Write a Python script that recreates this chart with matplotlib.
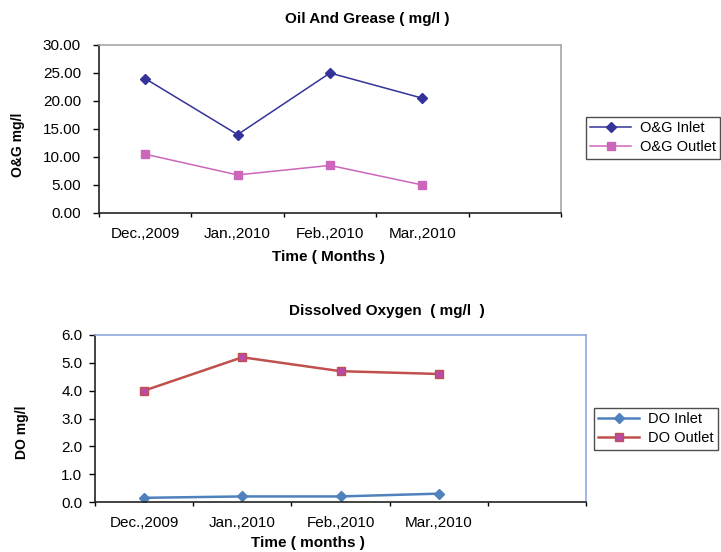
import matplotlib
matplotlib.use("Agg")
import matplotlib.pyplot as plt
import numpy as np

plt.rcParams['font.family'] = ['Liberation Sans', 'DejaVu Sans']

months = ["Dec.,2009", "Jan.,2010", "Feb.,2010", "Mar.,2010"]
og_inlet = [24.0, 14.0, 25.0, 20.5]
og_outlet = [10.5, 6.8, 8.5, 5.0]
do_inlet = [0.15, 0.2, 0.2, 0.3]
do_outlet = [4.0, 5.2, 4.7, 4.6]
n_slots = 5

W, H = 721, 552
fig = plt.figure(figsize=(W / 100, H / 100), dpi=100)


def px_axes(x0, y0, x1, y1):
    return fig.add_axes([x0 / W, 1 - y1 / H, (x1 - x0) / W, (y1 - y0) / H])


def ftext(x, y, s, **kw):
    fig.text(x / W, 1 - y / H, s, ha='center', va='center', **kw)


def style(ax, frame_color, ypad):
    ax.set_xlim(0, n_slots)
    ax.set_xticks(np.arange(0, n_slots + 1))
    ax.set_xticklabels([])
    ax.set_xticks(np.arange(len(months)) + 0.5, minor=True)
    ax.set_xticklabels(months, minor=True, fontsize=11)
    ax.tick_params(axis='x', which='minor', length=0, pad=10)
    ax.tick_params(axis='x', which='major', length=3, direction='out', width=1)
    ax.tick_params(axis='y', length=4, direction='out', width=1, labelsize=11, pad=ypad)
    for s in ['top', 'right']:
        ax.spines[s].set_color(frame_color)
        ax.spines[s].set_linewidth(1.2)
    for s in ['left', 'bottom']:
        ax.spines[s].set_color('#222222')
        ax.spines[s].set_linewidth(1.2)


x = np.arange(len(months)) + 0.5
leg_kw = dict(loc='upper left', bbox_transform=fig.transFigure, fontsize=10.5, frameon=True,
              fancybox=False, edgecolor='#222222', borderpad=0.3, handlelength=2.8,
              handletextpad=0.6, labelspacing=0.35, borderaxespad=0)

# Top chart
ax1 = px_axes(99, 45, 561, 213)
ax1.plot(x, og_inlet, color='#333399', marker='D', markersize=5, lw=1.1, label='O&G Inlet')
ax1.plot(x, og_outlet, color='#CC66BB', marker='s', markersize=5.5, lw=1.1, label='O&G Outlet')
ax1.set_ylim(0, 30)
ax1.set_yticks(np.arange(0, 31, 5))
ax1.set_yticklabels([f"{v:.2f}" for v in np.arange(0, 31, 5)])
style(ax1, '#A6A6A6', 9)
ftext(367, 19, "Oil And Grease ( mg/l )", fontsize=11, fontweight='bold')
ftext(328, 257, "Time ( Months )", fontsize=11, fontweight='bold')
ftext(18, 145, "O&G mg/l", fontsize=10, fontweight='bold', rotation=90)
leg1 = ax1.legend(bbox_to_anchor=(586 / W, 1 - 117 / H), **leg_kw)
leg1.get_frame().set_linewidth(1.0)

# Bottom chart
ax2 = px_axes(95, 335, 586, 502)
ax2.plot(x, do_inlet, color='#4F81BD', marker='D', markersize=5, lw=1.8, label='DO Inlet')
ax2.plot(x, do_outlet, color='#C0504D', marker='s', markersize=6, markerfacecolor='#B94AA8',
         markeredgecolor='#C0504D', lw=1.8, label='DO Outlet')
ax2.set_ylim(0, 6)
ax2.set_yticks(np.arange(0, 6.1, 1))
ax2.set_yticklabels([f"{v:.1f}" for v in np.arange(0, 6.1, 1)])
style(ax2, '#8EAADB', 5)
ftext(387, 311, "Dissolved Oxygen  ( mg/l  )", fontsize=11, fontweight='bold')
ftext(308, 543, "Time ( months )", fontsize=11, fontweight='bold')
ftext(22, 432, "DO mg/l", fontsize=10, fontweight='bold', rotation=90)
leg2 = ax2.legend(bbox_to_anchor=(594 / W, 1 - 408 / H), **leg_kw)
leg2.get_frame().set_linewidth(1.0)

fig.savefig("out.png", dpi=100)
